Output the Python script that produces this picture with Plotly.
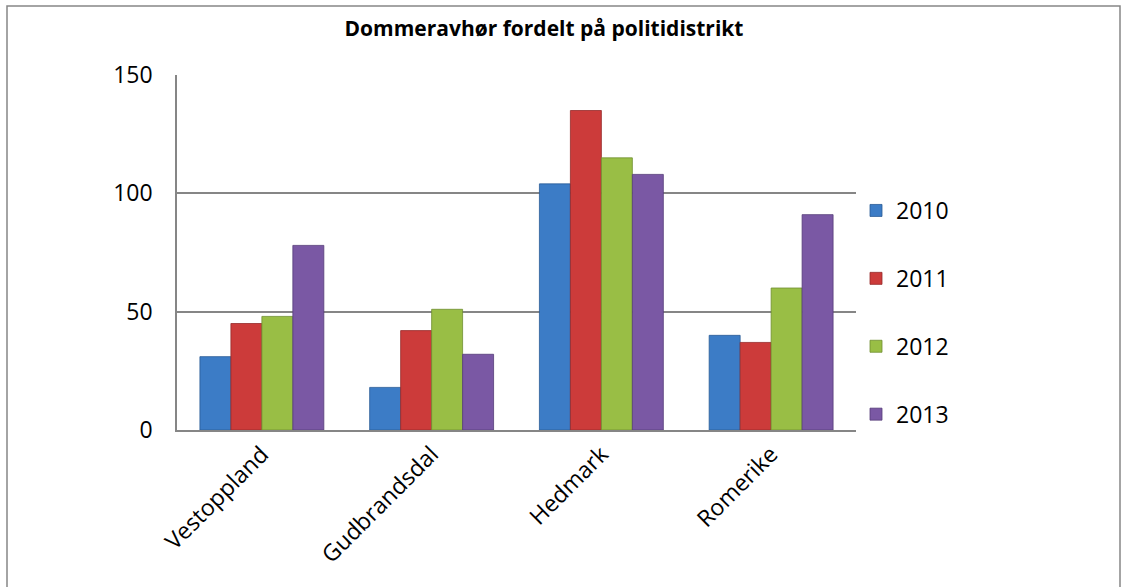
import plotly.graph_objects as go

categories = ["Vestoppland", "Gudbrandsdal", "Hedmark", "Romerike"]
years = ["2010", "2011", "2012", "2013"]
v2010 = [31, 18, 104, 40]
v2011 = [45, 42, 135, 37]
v2012 = [48, 51, 115, 60]
v2013 = [78, 32, 108, 91]
series = [v2010, v2011, v2012, v2013]
colors = ["#3C7CC6", "#CC3B3A", "#99BE45", "#7A58A4"]
edge = ["#2A5C96", "#962A2A", "#6E8E30", "#553C78"]

W, H = 1122, 587
L, R, T, B = 177, 856, 75, 430

fig = go.Figure()
for name, vals, c, e in zip(years, series, colors, edge):
    fig.add_trace(go.Bar(
        x=categories, y=vals, name=name, legendgroup=name,
        marker=dict(color=c, line=dict(color=e, width=0.8)),
    ))

pw, ph = R - L, B - T
def px2paper_x(px): return (px - L) / pw
def px2paper_y(py): return (B - py) / ph

fig.update_layout(
    width=W, height=H,
    margin=dict(l=L, r=W - R, t=T, b=H - B, pad=0),
    paper_bgcolor="white", plot_bgcolor="white",
    font=dict(family="Open Sans, sans-serif", color="black"),
    title=dict(text="<b>Dommeravhør fordelt på politidistrikt</b>",
               x=544 / W, xref="container", xanchor="center",
               y=1 - 29 / H, yref="container", yanchor="middle",
               font=dict(size=21)),
    barmode="group", bargap=0.27, bargroupgap=0.0,
    legend=dict(x=px2paper_x(856), y=px2paper_y(189), xanchor="left", yanchor="top",
                traceorder="grouped", tracegroupgap=35,
                font=dict(size=23), itemwidth=30, bgcolor="rgba(0,0,0,0)"),
    xaxis=dict(tickangle=-45, tickfont=dict(size=23), showgrid=False,
               showline=True, linecolor="#868686", linewidth=1.5, ticks=""),
    yaxis=dict(range=[0, 150], tickvals=[0, 50, 100, 150], tickfont=dict(size=23),
               showgrid=True, gridcolor="#868686", gridwidth=1.5,
               showline=True, linecolor="#868686", linewidth=1.5,
               zeroline=False, ticks="", ticklabelstandoff=18),
    shapes=[dict(type="rect", xref="paper", yref="paper",
                 x0=px2paper_x(7), x1=px2paper_x(1120),
                 y0=px2paper_y(600), y1=px2paper_y(6),
                 line=dict(color="#868686", width=1.5), layer="below")],
)

fig.write_html("out.html", config={"displayModeBar": False},
               post_script="document.body.style.margin='0';")
